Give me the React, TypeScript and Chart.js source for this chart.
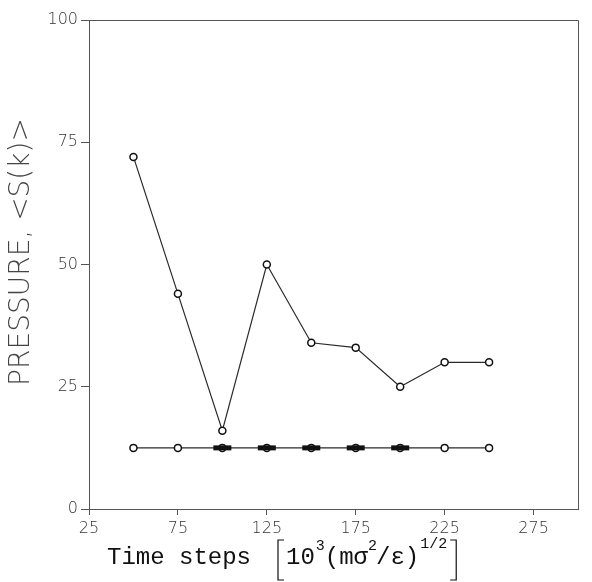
import React, { useEffect, useRef } from "react";
import { Chart, registerables } from "chart.js";

Chart.register(...registerables);

const xValues = [50, 75, 100, 125, 150, 175, 200, 225, 250];
const upperSeries = [72, 44, 16, 50, 34, 33, 25, 30, 30];
const lowerSeries = [12.5, 12.5, 12.5, 12.5, 12.5, 12.5, 12.5, 12.5, 12.5];
const thickX = [100, 125, 150, 175, 200];
const thickSeries = [12.5, 12.5, 12.5, 12.5, 12.5];
const xTickValues = [25, 75, 125, 175, 225, 275];
const yTickValues = [0, 25, 50, 75, 100];
const yTitle = "PRESSURE, <S(k)>";

const INK = "#2a2a2a";

const framePlugin = {
  id: "frame",
  afterDraw(chart: any) {
    const { ctx, chartArea } = chart;
    ctx.save();
    ctx.strokeStyle = "#555";
    ctx.lineWidth = 1;
    ctx.beginPath();
    ctx.moveTo(chartArea.left, chartArea.top + 0.5);
    ctx.lineTo(chartArea.right + 0.5, chartArea.top + 0.5);
    ctx.lineTo(chartArea.right + 0.5, chartArea.bottom);
    ctx.stroke();

    // y title
    ctx.save();
    ctx.translate(22, 252);
    ctx.rotate(-Math.PI / 2);
    ctx.font = '200 28px "DejaVu Sans"';
    ctx.fillStyle = "#444";
    ctx.textAlign = "center";
    ctx.textBaseline = "middle";
    ctx.fillText(yTitle, 0, 0);
    ctx.restore();

    // x title
    const big = '24px "Liberation Mono"';
    const small = '15px "Liberation Mono"';
    const base = 564;
    const sup = 550;
    ctx.fillStyle = "#111";
    ctx.strokeStyle = "#111";
    ctx.textBaseline = "alphabetic";
    ctx.textAlign = "left";
    let x = 107;
    ctx.font = big;
    ctx.fillText("Time steps", x, base);
    // left bracket
    ctx.lineWidth = 1.2;
    ctx.beginPath();
    ctx.moveTo(284, 540);
    ctx.lineTo(278, 540);
    ctx.lineTo(278, 580);
    ctx.lineTo(284, 580);
    ctx.stroke();
    x = 286;
    ctx.font = big;
    ctx.fillText("10", x, base);
    x += ctx.measureText("10").width + 1;
    ctx.font = small;
    ctx.fillText("3", x, sup);
    x += ctx.measureText("3").width;
    ctx.font = big;
    ctx.fillText("(m\u03c3", x, base);
    x += ctx.measureText("(m\u03c3").width;
    ctx.font = small;
    ctx.fillText("2", x, sup);
    x += ctx.measureText("2").width - 1;
    ctx.font = big;
    ctx.fillText("/\u03b5)", x, base);
    x += ctx.measureText("/\u03b5)").width + 1;
    ctx.font = small;
    ctx.fillText("1/2", x, sup - 2);
    x += ctx.measureText("1/2").width + 3;
    ctx.beginPath();
    ctx.moveTo(x, 540);
    ctx.lineTo(x + 6, 540);
    ctx.lineTo(x + 6, 580);
    ctx.lineTo(x, 580);
    ctx.stroke();
    ctx.restore();
  },
};

export default function App() {
  const ref = useRef<HTMLCanvasElement>(null);
  useEffect(() => {
    document.body.style.margin = "0";
    const canvas = ref.current!;
    const tickFont = { family: "DejaVu Sans", size: 16, weight: "200" as any };
    const chart = new Chart(canvas, {
      type: "scatter",
      data: {
        datasets: [
          {
            label: "thick",
            data: thickX.map((v, i) => ({ x: v, y: thickSeries[i] })),
            showLine: false,
            pointStyle: "line",
            pointRadius: 9,
            pointBorderWidth: 5,
            borderColor: "#111",
            backgroundColor: "#111",
          },
          {
            label: "lower",
            data: xValues.map((v, i) => ({ x: v, y: lowerSeries[i] })),
            showLine: true,
            borderColor: INK,
            borderWidth: 1.2,
            pointRadius: 3.5,
            pointBorderWidth: 1.5,
            pointBorderColor: "#111",
            pointBackgroundColor: "#fff",
          },
          {
            label: "upper",
            data: xValues.map((v, i) => ({ x: v, y: upperSeries[i] })),
            showLine: true,
            borderColor: INK,
            borderWidth: 1.2,
            pointRadius: 3.5,
            pointBorderWidth: 1.5,
            pointBorderColor: "#111",
            pointBackgroundColor: "#fff",
          },
        ],
      },
      options: {
        animation: false,
        responsive: false,
        layout: { padding: { top: 20, right: 4, left: 0, bottom: 0 } },
        plugins: { legend: { display: false }, tooltip: { enabled: false } },
        scales: {
          x: {
            type: "linear",
            min: 25,
            max: 300,
            afterBuildTicks: (scale: any) => {
              scale.ticks = xTickValues.map((v) => ({ value: v }));
            },
            afterFit: (scale: any) => {
              scale.height = 73;
            },
            border: { display: true, color: "#555", width: 1 },
            grid: { drawOnChartArea: false, tickLength: 6, color: "#555" },
            ticks: { font: tickFont, color: "#333", padding: 4, maxRotation: 0, autoSkip: false },
          },
          y: {
            type: "linear",
            min: 0,
            max: 100,
            afterBuildTicks: (scale: any) => {
              scale.ticks = yTickValues.map((v) => ({ value: v }));
            },
            afterFit: (scale: any) => {
              scale.width = 89;
            },
            border: { display: true, color: "#555", width: 1 },
            grid: { drawOnChartArea: false, tickLength: 8, color: "#555" },
            ticks: { font: tickFont, color: "#333", padding: 3 },
          },
        },
      },
      plugins: [framePlugin],
    });
    return () => chart.destroy();
  }, []);
  return (
    <div style={{ width: 592, height: 582 }}>
      <canvas ref={ref} width={592} height={582} style={{ display: "block" }} />
    </div>
  );
}
